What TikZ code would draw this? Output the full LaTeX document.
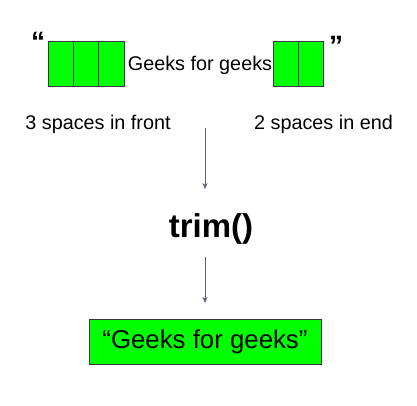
\documentclass[tikz,border=0pt]{standalone}
\usepackage{fontspec}
\setmainfont{Liberation Sans}
\usetikzlibrary{positioning, arrows.meta}

\definecolor{cellgreen}{HTML}{00FF00}
\definecolor{edge}{HTML}{3A3434}
\definecolor{arrowgray}{HTML}{5A6270}

\begin{document}
\begin{tikzpicture}[x=1pt, y=-1pt]
		\tikzset{
			>={Stealth[length=6pt, width=5pt]},
			cell/.style={draw=edge, fill=cellgreen, line width=0.8pt, outer sep=0pt, inner sep=0pt, minimum width=25.3pt, minimum height=45pt},
			label/.style={inner sep=0pt, font=\fontsize{19.8}{22}\selectfont},
			quote/.style={inner sep=0pt, font=\fontsize{28}{30}\selectfont\bfseries},
			flow/.style={->, draw=arrowgray, line width=0.6pt}
		}
		\useasboundingbox (0,0) rectangle (417,405);
		
		% Leading spaces
		\node[cell] (f1) at (60.7,63.5) {};
		\node[cell, right=0pt of f1] (f2) {};
		\node[cell, right=0pt of f2] (f3) {};
		
		% Text between the spaces
		\node[label] (word) at (200,65) {Geeks for geeks};
		
		% Trailing spaces
		\node[cell] (e1) at (285.6,63.5) {};
		\node[cell, right=0pt of e1] (e2) {};
		
		% Quote marks
		\node[quote] (lq) at (38,42) {“};
		\node[quote] (rq) at (336,46) {”};
		
		% Annotations
		\node[label] (front) at (98,124) {3 spaces in front};
		\node[label] (back) at (323.5,124) {2 spaces in end};
		
		% Method
		\node[inner sep=0pt, font=\fontsize{33}{36}\selectfont\bfseries] (trim) at (211,229) {trim()};
		
		% Result
		\node[draw=edge, fill=cellgreen, line width=0.8pt, minimum width=232pt, minimum height=45pt, font=\fontsize{25.8}{28}\selectfont] (result) at (205,341.5) {“Geeks for geeks”};
		
		% Arrows
		\coordinate (a1) at (205,128);
		\coordinate (b1) at (205,189);
		\coordinate (a2) at (205,257);
		\coordinate (b2) at (205,303);
		\draw[flow] (a1) -- (b1);
		\draw[flow] (a2) -- (b2);
		
	\end{tikzpicture}
\end{document}
